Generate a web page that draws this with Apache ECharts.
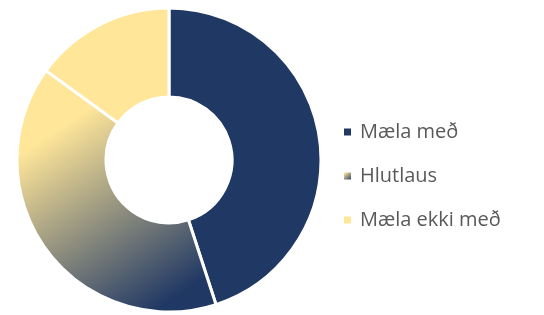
<!DOCTYPE html>
<html>
<head>
<meta charset="utf-8">
<script src="https://cdn.jsdelivr.net/npm/echarts@6/dist/echarts.min.js"></script>
<style>
  html, body { margin: 0; padding: 0; background: #fff; }
  #main { width: 544px; height: 315px; }
</style>
</head>
<body>
<div id="main"></div>
<script>
var categories = ['Mæla með', 'Hlutlaus', 'Mæla ekki með'];
var values = [45, 40, 15];

var navy = '#203864';
var yellow = '#FFE699';
var colors = [
  navy,
  new echarts.graphic.LinearGradient(0, 0, 0.8, 1, [
    { offset: 0, color: yellow },
    { offset: 0.25, color: yellow },
    { offset: 0.95, color: navy }
  ]),
  yellow
];

var chart = echarts.init(document.getElementById('main'));

var option = {
  animation: false,
  legend: {
    orient: 'vertical',
    left: 337,
    top: 117,
    itemWidth: 9,
    itemHeight: 9,
    itemGap: 24,
    icon: 'rect',
    data: categories,
    textStyle: {
      color: '#595959',
      fontSize: 20,
      fontFamily: 'Open Sans',
      padding: [0, 0, 0, 3]
    }
  },
  series: [
    {
      type: 'pie',
      center: [169, 160],
      radius: [63, 152],
      startAngle: 90,
      clockwise: true,
      label: { show: false },
      labelLine: { show: false },
      itemStyle: {
        borderColor: '#fff',
        borderWidth: 3
      },
      data: categories.map(function (name, i) {
        return { name: name, value: values[i], itemStyle: { color: colors[i] } };
      })
    }
  ]
};

option && chart.setOption(option);
</script>
</body>
</html>
